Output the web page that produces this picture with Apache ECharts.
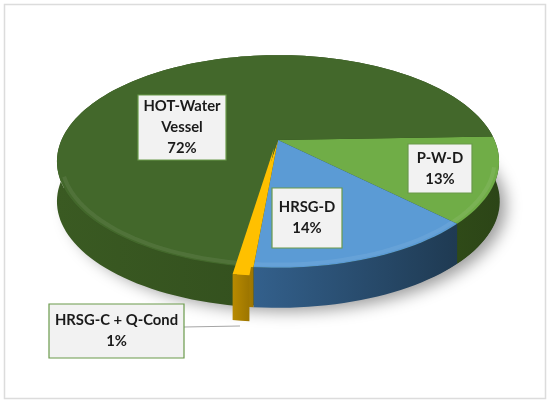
<!DOCTYPE html>
<html>
<head>
<meta charset="utf-8">
<style>html,body{margin:0;padding:0;background:#fff}#chart{width:550px;height:404px}</style>
<script src="https://cdn.jsdelivr.net/npm/echarts@6/dist/echarts.min.js"></script>
</head>
<body>
<div id="chart"></div>
<script>
"use strict";

// clockwise from the right hand edge of the pie
var names=['P-W-D','HRSG-D','HRSG-C + Q-Cond','HOT-Water\nVessel'];
var values=[13,14,1,72];

var top_colors=['#70ad47','#5b9bd5','#ffc000','#43682b'];
var side_colors=[['#2f4a18','#2c4517'],['#33608c','#1f3a52'],['#b88a00','#9c7500'],['#3a5a22','#2c451a']];
var label_boxes=[[408,144,64,49],[272,188,70,60],[49,304,135,54],[138,95,88,65]];

var CX=278,CY=140,DEPTH=40;
var BX=216.5,AY=102,K=0.202;   // tilt of the disc
var START_DEG=88;

// point on the disc at angle deg (clockwise from the far side), r=1 is the rim
function disc(deg,r,dx,dy){
  var a=deg*Math.PI/180,u=Math.sin(a)*r,v=-Math.cos(a)*r,w=1-K*v;
  return [CX+BX*u/w+(dx||0),CY+AY*v/w+(dy||0)];
}
function rim(from,to,r,dx,dy){
  var pts=[],n=Math.max(2,Math.ceil((to-from)/2));
  for (var i=0;i<=n;i++) pts.push(disc(from+(to-from)*i/n,r,dx,dy));
  return pts;
}
function grad(c){
  return new echarts.graphic.LinearGradient(0,0,1,0,[{offset:0,color:c[0]},{offset:1,color:c[1]}]);
}
function wedge(i,from,to,dx,dy,d,z){
  var edge=rim(from,to,1,dx,dy);
  var under=edge.map(function(p){return [p[0],p[1]+d];}).reverse();
  return [
    {type:'polygon',z2:z,shape:{points:edge.concat(under)},style:{fill:grad(side_colors[i])}},
    {type:'polygon',z2:z+1,shape:{points:[[CX+dx,CY+dy]].concat(edge)},style:{fill:top_colors[i]}}
  ];
}

var total=values.reduce(function(a,b){return a+b;},0);

function renderSlice(params,api){
  var i=params.dataIndex,val=api.value(0),from=START_DEG;
  for (var j=0;j<i;j++) from+=values[j]/total*360;
  var to=from+val/total*360;
  var out=(val<5);                 // the thin slice is pulled out
  var kids=wedge(i,from,to,0,0,DEPTH,1);
  if (out) kids=kids.concat(wedge(i,from,to,-4,8,46,3));
  // soft bevel along the near rim
  var a=Math.max(from,105),b=Math.min(to,250);
  if (b>a && !out) {
    kids.push({type:'polyline',z2:2,shape:{points:rim(a,b,0.98)},
      style:{fill:null,stroke:'rgba(255,255,255,0.07)',lineWidth:4,shadowBlur:4,shadowColor:'rgba(255,255,255,0.15)'}});
  }
  // label box
  var box=label_boxes[i];
  kids.push({type:'rect',z2:7,shape:{x:box[0],y:box[1],width:box[2],height:box[3]},
    style:{fill:'#f2f2f2',stroke:'#6a9a4b',lineWidth:1.2}});
  kids.push({type:'text',z2:8,x:box[0]+box[2]/2,y:box[1]+box[3]/2,
    style:{text:names[i]+'\n'+val+'%',fill:'#1a1a1a',font:'bold 14.8px Lato',
      align:'center',verticalAlign:'middle',lineHeight:21}});
  if (out) {
    kids.push({type:'line',z2:6,shape:{x1:box[0]+box[2],y1:box[1]+23,x2:240,y2:box[1]+22},
      style:{stroke:'#a6a6a6',lineWidth:1.2}});
  }
  return {type:'group',children:kids};
}

// soft shadow below the whole disc
function renderShadow(){
  var pts=rim(0,360,0.99,3,DEPTH);
  return {type:'polygon',z2:0,shape:{points:pts},
    style:{fill:'#2c451a',shadowBlur:16,shadowOffsetX:6,shadowOffsetY:5,shadowColor:'rgba(0,0,0,0.4)'}};
}

var chart=echarts.init(document.getElementById('chart'),null,{renderer:'canvas'});
chart.setOption({
  animation:false,
  backgroundColor:'#fff',
  graphic:[{type:'rect',z:-1,shape:{x:4.5,y:4.5,width:541,height:394},
    style:{fill:'#fff',stroke:'#dcdcdc',lineWidth:1.5}}],
  series:[
    {type:'custom',coordinateSystem:'none',z:1,silent:true,data:[0],renderItem:renderShadow},
    {type:'custom',coordinateSystem:'none',z:2,silent:true,
      data:values.map(function(v,i){return {name:names[i],value:[v]};}),
      renderItem:renderSlice}
  ]
});
</script>
</body>
</html>
